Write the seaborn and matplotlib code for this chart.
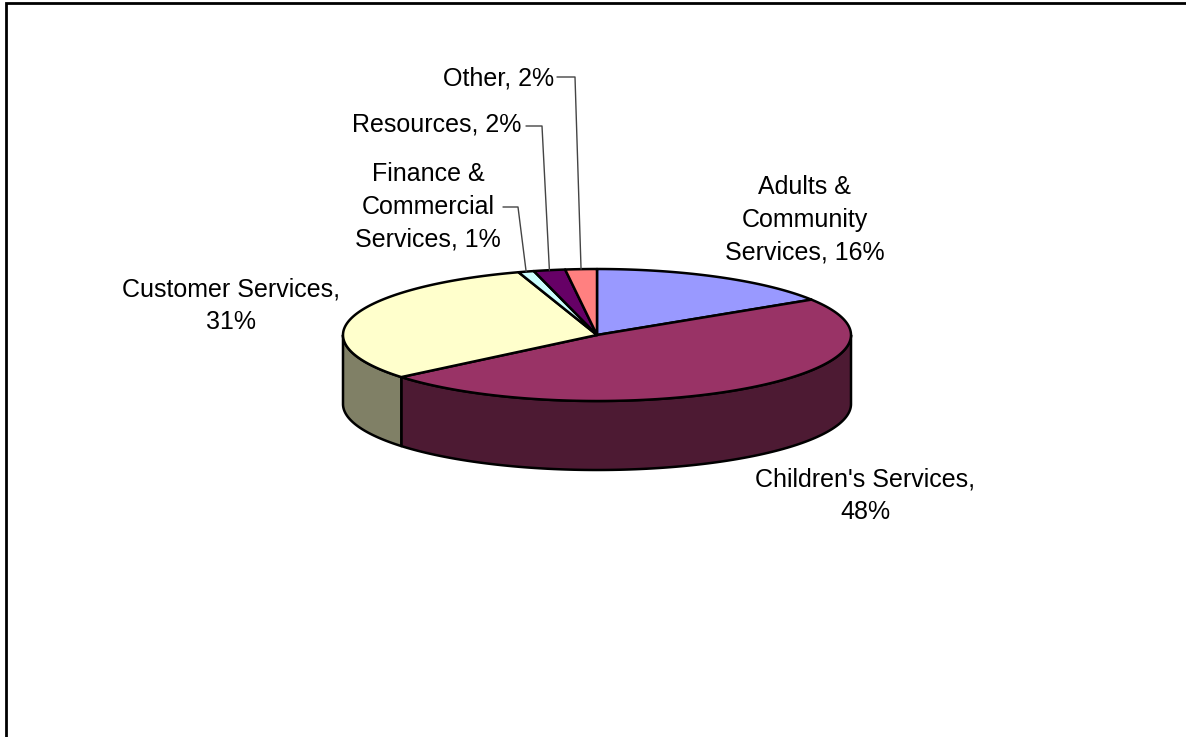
import numpy as np
import matplotlib
matplotlib.use("Agg")
import matplotlib.pyplot as plt
import seaborn as sns

# Share of the total by service area, clockwise from twelve o'clock
services = ["Adults &\nCommunity\nServices", "Children's Services,", "Customer Services,",
            "Finance &\nCommercial\nServices", "Resources", "Other"]
shares = [16, 48, 31, 1, 2, 2]
top_colors = ["#9999FF", "#993366", "#FFFFCC", "#CCFFFF", "#660066", "#FF8080"]
side_colors = ["#4D4D80", "#4D1A33", "#808066", "#668080", "#330033", "#804040"]

W, H = 1186, 737
CX, CY, RX, RY, DEPTH = 597, 335, 254, 66, 69

sns.set_theme(style="white")
plt.rcParams["font.family"] = ["Liberation Sans", "DejaVu Sans"]

fig = plt.figure(figsize=(W / 100, H / 100), dpi=100, facecolor="white")
ax = fig.add_axes([0, 0, 1, 1])
ax.set_xlim(0, W)
ax.set_ylim(H, 0)
ax.axis("off")
EDGE = dict(edgecolor="black", linewidth=1.8, joinstyle="round")


def rim(theta):
    """Point on the top ellipse for a clockwise angle measured from twelve o'clock."""
    return CX + RX * np.sin(theta), CY - RY * np.cos(theta)


# Slice boundaries follow directly from the shares
edges = np.radians(np.concatenate([[0], np.cumsum(shares)]) * 3.6)

# Side wall: only the front half of the ellipse is visible
for i in range(len(shares)):
    a, b = max(edges[i], np.pi / 2), min(edges[i + 1], 3 * np.pi / 2)
    if b <= a:
        continue
    t = np.linspace(a, b, 160)
    x, y = rim(t)
    ax.fill(np.r_[x, x[::-1]], np.r_[y, y[::-1] + DEPTH],
            facecolor=side_colors[i], zorder=2, **EDGE)

# Top face
for i in range(len(shares)):
    t = np.linspace(edges[i], edges[i + 1], 160)
    x, y = rim(t)
    ax.fill(np.r_[CX, x], np.r_[CY, y], facecolor=top_colors[i], zorder=3, **EDGE)

# Data labels
text = dict(fontsize=18, color="black", ha="center", va="center", linespacing=1.45, zorder=5)
ax.text(805, 220, f"{services[0]}, {shares[0]}%", **text)
ax.text(865, 495.5, f"{services[1]}\n{shares[1]}%", **text)
ax.text(231, 306, f"{services[2]}\n{shares[2]}%", **text)
ax.text(428, 207, f"{services[3]}, {shares[3]}%", **text)
ax.text(437, 124, f"{services[4]}, {shares[4]}%", **text)
ax.text(499, 78, f"{services[5]}, {shares[5]}%", **text)

# Leader lines for the thin slices
leader = dict(color="#444444", linewidth=1.0, zorder=4)
for i, (lx, ly, kx) in zip([3, 4, 5], [(503, 207, 518), (526, 126, 542), (557, 77, 575)]):
    mid = (edges[i] + edges[i + 1]) / 2
    ex, ey = rim(mid)
    ax.plot([lx, kx, ex], [ly, ly, ey], **leader)

# Chart area border, left and top sides only
frame_x = [5.5, 5.5, W]
frame_y = [H, 3.0, 3.0]
ax.plot(frame_x, frame_y, color="black", linewidth=2, solid_joinstyle="miter", zorder=6)

fig.savefig("out.png", dpi=100)
